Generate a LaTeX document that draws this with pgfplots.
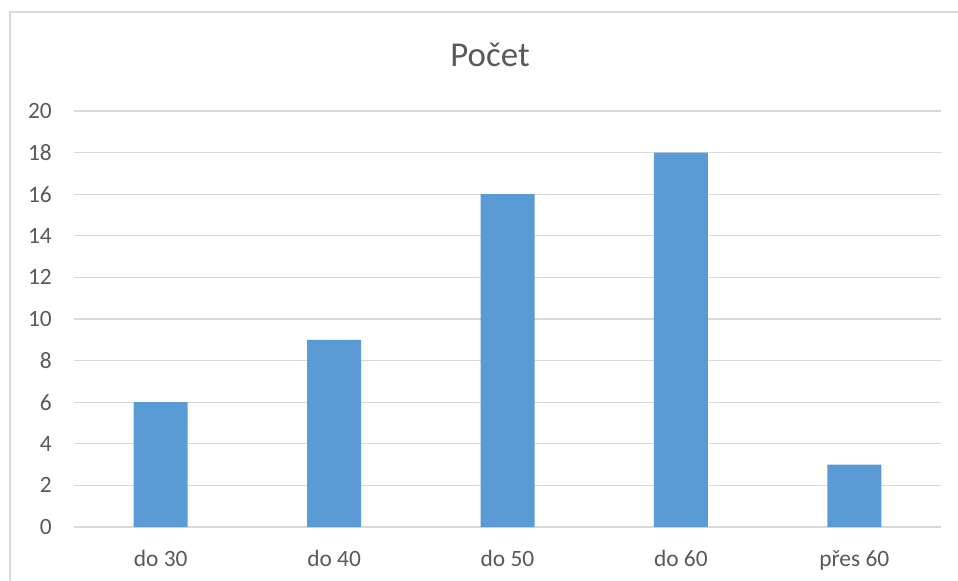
\documentclass[border=0pt]{standalone}
\usepackage{fontspec}
\setmainfont{Carlito}
\usepackage{pgfplots}
\pgfplotsset{compat=1.18}
\definecolor{barblue}{HTML}{5B9BD5}
\definecolor{gridgray}{HTML}{D9D9D9}
\definecolor{txtgray}{HTML}{595959}
\begin{document}
\begin{tikzpicture}
\useasboundingbox (0,0) rectangle (958bp,581bp);
% chart area frame (cut off at right and bottom)
\draw[gridgray, line width=1.3bp] (10bp,0) -- (10bp,569bp) -- (958bp,569bp);
\node[anchor=base, text=txtgray, inner sep=0pt, font=\fontsize{35}{40}\selectfont] at (490bp,514bp) {Počet};
\begin{axis}[
  at={(74bp,54bp)}, anchor=south west,
  scale only axis,
  width=867bp, height=416bp,
  ybar, bar width=54bp,
  xmin=-0.5, xmax=4.5,
  ymin=0, ymax=20,
  ytick={0,2,...,20},
  xtick=data,
  xticklabels={do 30, do 40, do 50, do 60, přes 60},
  axis line style={draw=none},
  major tick length=0pt,
  tick style={draw=none},
  ymajorgrids,
  major grid style={gridgray, line width=1.3bp},
  /pgf/number format/assume math mode=true,
  ticklabel style={text=txtgray, font=\fontsize{23.5}{28}\selectfont, inner sep=0pt},
  yticklabel style={anchor=east, xshift=-22bp},
  xticklabel style={anchor=north, yshift=-23bp},
  clip=false,
]
\addplot[fill=barblue, draw=none] coordinates {(0,6) (1,9) (2,16) (3,18) (4,3)};
\end{axis}
\end{tikzpicture}
\end{document}
